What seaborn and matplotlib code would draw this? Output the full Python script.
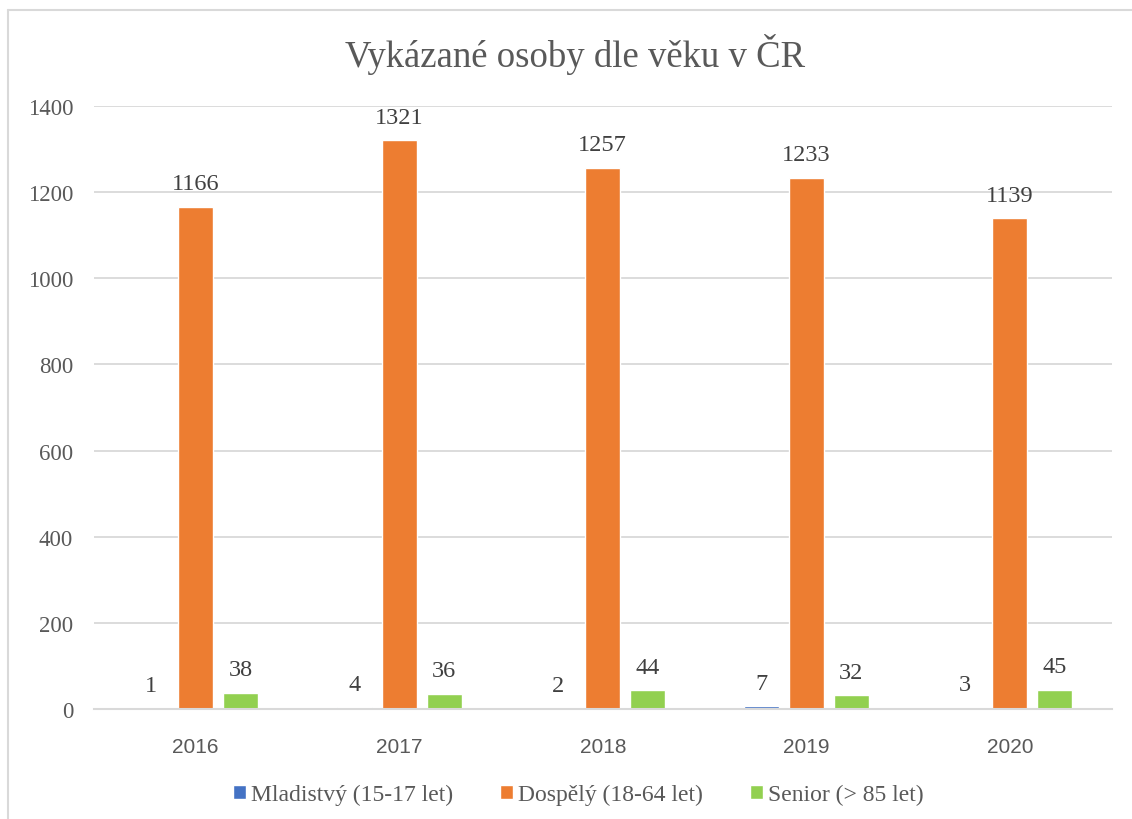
import matplotlib.pyplot as plt
import seaborn as sns
import pandas as pd
from matplotlib.lines import Line2D

years = ['2016', '2017', '2018', '2019', '2020']
groups = ['Mladistvý (15-17 let)', 'Dospělý (18-64 let)', 'Senior (> 85 let)']
mladistvy = [1, 4, 2, 7, 3]
dospely = [1166, 1321, 1257, 1233, 1139]
senior = [38, 36, 44, 32, 45]
colors = ['#4472C4', '#ED7D31', '#92D050']

rows = []
for g, vals in zip(groups, [mladistvy, dospely, senior]):
    for y, v in zip(years, vals):
        rows.append((y, g, v))
df = pd.DataFrame(rows, columns=['rok', 'skupina', 'pocet'])

sns.set_style('white')
serif = ['Liberation Serif', 'DejaVu Serif']
sans = ['Liberation Sans', 'DejaVu Sans']
text_col = '#595959'

fig = plt.figure(figsize=(11.32, 8.2), dpi=100)
ax = fig.add_axes([0.083, 0.134, 0.899, 0.7355])

sns.barplot(data=df, x='rok', y='pocet', hue='skupina', order=years, hue_order=groups,
            palette=colors, width=0.663, gap=0.22, saturation=1, ax=ax, legend=True)

for cont in ax.containers:
    ax.bar_label(cont, padding=9, fontsize=17.5, color='#404040', family=serif)

ax.set_ylim(0, 1400)
ax.set_yticks(range(0, 1401, 200))
ax.set_xlim(-0.5, 4.5)
ax.set_xlabel('')
ax.set_ylabel('')
ax.grid(axis='y', color='#d9d9d9', linewidth=1.3)
ax.set_axisbelow(True)
for s in ['top', 'right', 'left']:
    ax.spines[s].set_visible(False)
ax.spines['bottom'].set_color('#d9d9d9')
ax.spines['bottom'].set_linewidth(1.5)
ax.tick_params(axis='both', length=0)
ax.tick_params(axis='y', pad=15)
ax.tick_params(axis='x', pad=20)
for lab in ax.get_yticklabels():
    lab.set_family(serif)
    lab.set_fontsize(16.5)
    lab.set_color(text_col)
for lab in ax.get_xticklabels():
    lab.set_family(sans)
    lab.set_fontsize(15)
    lab.set_color(text_col)

ax.legend(loc='center', bbox_to_anchor=(0.476, -0.142), ncol=3, frameon=False,
          prop={'family': serif, 'size': 17}, handlelength=0.55, handleheight=0.55,
          handletextpad=0.2, columnspacing=2.0, labelcolor=text_col)

fig.text(0.508, 0.934, 'Vykázané osoby dle věku v ČR', ha='center', va='center',
         fontsize=26.5, family=serif, color=text_col)

fig.add_artist(Line2D([0.0075, 0.0075], [0.0, 0.986], color='#d9d9d9', lw=1.5,
                      transform=fig.transFigure))
fig.add_artist(Line2D([0.0075, 1.0], [0.986, 0.986], color='#d9d9d9', lw=1.5,
                      transform=fig.transFigure))

fig.savefig('out.png', dpi=100)
